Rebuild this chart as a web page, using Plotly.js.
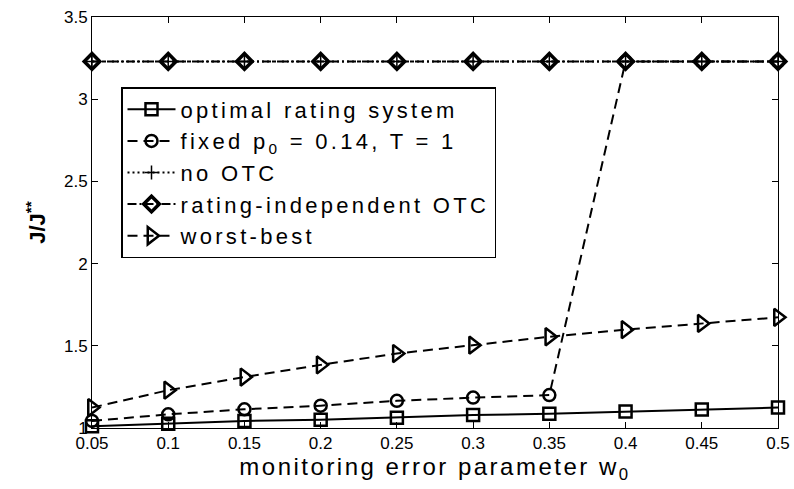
<!DOCTYPE html>
<html>
<head>
<meta charset="utf-8">
<script src="https://cdn.plot.ly/plotly-3.0.1.min.js"></script>
<style>
html,body{margin:0;padding:0;background:#fff;}
#chart{width:794px;height:489px;}
.legendtext{letter-spacing:3.3px !important;}
.xtitle{letter-spacing:2.5px !important;}
</style>
</head>
<body>
<div id="chart"></div>
<script>
const w0 = [0.05, 0.1, 0.15, 0.2, 0.25, 0.3, 0.35, 0.4, 0.45, 0.5];
const optimal = [1.01, 1.026, 1.043, 1.05, 1.063, 1.079, 1.087, 1.1, 1.112, 1.124];
const fixedP0 = [1.043, 1.083, 1.114, 1.136, 1.165, 1.185, 1.2, 3.23, 3.23, 3.23];
const noOTC = [3.23, 3.23, 3.23, 3.23, 3.23, 3.23, 3.23, 3.23, 3.23, 3.23];
const ratingIndep = [3.23, 3.23, 3.23, 3.23, 3.23, 3.23, 3.23, 3.23, 3.23, 3.23];
const worstBest = [1.124, 1.23, 1.31, 1.384, 1.453, 1.504, 1.555, 1.598, 1.636, 1.673];
const xTicks = [0.05, 0.1, 0.15, 0.2, 0.25, 0.3, 0.35, 0.4, 0.45, 0.5];
const xTickText = ['0.05', '0.1', '0.15', '0.2', '0.25', '0.3', '0.35', '0.4', '0.45', '0.5'];
const yTicks = [1, 1.5, 2, 2.5, 3, 3.5];
const yTickText = ['1', '1.5', '2', '2.5', '3', '3.5'];

function tr(name, y, dash, symbol, size, lw, rank) {
  return {
    x: w0, y: y, name: name, type: 'scatter', mode: 'lines+markers',
    cliponaxis: false, legendgroup: 'g' + rank, legendrank: rank,
    line: {color: '#000', width: 2, dash: dash},
    marker: {symbol: symbol, size: size, color: '#000', line: {color: '#000', width: lw}}
  };
}
const tOpt = tr('optimal rating system', optimal, 'solid', 'square-open', 12, 2.5, 1);
const tFix = tr('fixed p<sub>0</sub> = 0.14, T = 1', fixedP0, '10px,6px', 'circle-open', 12, 2.5, 2);
const tNo = tr('no OTC', noOTC, '2px,3px', 'cross-thin-open', 10, 1.5, 3);
const tRi = tr('rating-independent OTC', ratingIndep, '9px,3px,2px,3px', 'diamond-open', 12, 3.5, 4);
const tWb = tr('worst-best', worstBest, '10px,6px', 'triangle-right-open', 15, 2.5, 5);

const layout = {
  width: 794, height: 489,
  margin: {l: 92, r: 16, t: 17, b: 61},
  paper_bgcolor: '#fff', plot_bgcolor: '#fff',
  font: {family: 'Liberation Sans, Arial, sans-serif', color: '#000'},
  showlegend: true,
  legend: {
    x: (121 - 92) / 686, y: (428 - 87) / 411, xanchor: 'left', yanchor: 'top',
    bordercolor: '#000', borderwidth: 1.5, bgcolor: '#fff',
    font: {size: 22, color: '#000'}, tracegroupgap: 0, itemwidth: 48
  },
  xaxis: {
    range: [0.05, 0.5], tickvals: xTicks, ticktext: xTickText,
    ticks: 'inside', ticklen: 6, tickcolor: '#000', mirror: 'ticks',
    showline: true, linecolor: '#000', linewidth: 1, showgrid: false, zeroline: false,
    tickfont: {size: 17}, title: {text: 'monitoring error parameter w<sub>0</sub>', font: {size: 24}, standoff: 3}
  },
  yaxis: {
    range: [1, 3.5], tickvals: yTicks, ticktext: yTickText,
    ticks: 'inside', ticklen: 6, tickcolor: '#000', mirror: 'ticks',
    showline: true, linecolor: '#000', linewidth: 1, showgrid: false, zeroline: false,
    tickfont: {size: 17}, title: {text: '<b>J/J<sup>**</sup></b>', font: {size: 22}, standoff: 12}
  }
};
Plotly.newPlot('chart', [tOpt, tFix, tRi, tNo, tWb], layout, {displayModeBar: false, staticPlot: true});
</script>
</body>
</html>
